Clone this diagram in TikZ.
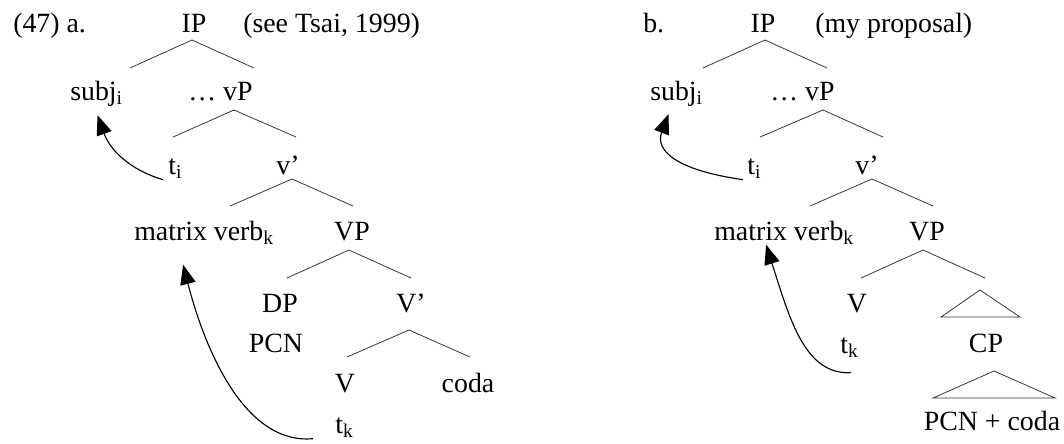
\documentclass[tikz,border=0pt]{standalone}
\usepackage{fontspec}
\setmainfont{Liberation Serif}
\usetikzlibrary{arrows.meta, calc}
\tikzset{
  treelabel/.style={
    anchor=base,
    inner sep=0pt,
    font=\fontsize{19.8}{23}\selectfont
  },
  leftlabel/.style={
    treelabel,
    anchor=base west
  },
  branch/.style={
    line width=0.55pt,
    draw=black!80
  },
  movearrow/.style={
    -{Triangle[length=14pt,width=11pt]},
    line width=0.8pt
  }
}

\begin{document}
\begin{tikzpicture}[x=0.025cm, y=-0.025cm]
  \useasboundingbox (0,0) rectangle (1064,443);

  % (47a)
  \node[leftlabel] (aex) at (13,32) {(47) a.};
  \node[treelabel] (aIP) at (194,32) {IP};
  \node[leftlabel] (anote) at (243,32) {(see Tsai, 1999)};
  \node[leftlabel] (asubj) at (70,100) {subj\textsubscript{i}};
  \node[leftlabel] (avP) at (188,100) {… vP};
  \node[leftlabel] (ati) at (168,174) {t\textsubscript{i}};
  \node[treelabel] (avbar) at (288,174) {v’};
  \node[leftlabel] (averb) at (134,240) {matrix verb\textsubscript{k}};
  \node[treelabel] (aVP) at (352,240) {VP};
  \node[treelabel] (aDP) at (280,312) {DP};
  \node[treelabel] (aPCN) at (276,352) {PCN};
  \node[treelabel] (aVbar) at (411,312) {V’};
  \node[treelabel] (aV) at (345,392) {V};
  \node[treelabel] (acoda) at (468,392) {coda};
  \node[leftlabel] (atk) at (335,433) {t\textsubscript{k}};

  \coordinate (aIPt) at (192,40);  \coordinate (aIPl) at (130,68);  \coordinate (aIPr) at (254,68);
  \coordinate (avPt) at (234,110); \coordinate (avPl) at (173,137); \coordinate (avPr) at (296,137);
  \coordinate (avbt) at (292,179); \coordinate (avbl) at (230,206); \coordinate (avbr) at (353,206);
  \coordinate (aVPt) at (349,250); \coordinate (aVPl) at (287,278); \coordinate (aVPr) at (411,278);
  \coordinate (aVbt) at (409,330); \coordinate (aVbl) at (347,357); \coordinate (aVbr) at (470,357);

  \draw[branch] (aIPl) -- (aIPt) -- (aIPr);
  \draw[branch] (avPl) -- (avPt) -- (avPr);
  \draw[branch] (avbl) -- (avbt) -- (avbr);
  \draw[branch] (aVPl) -- (aVPt) -- (aVPr);
  \draw[branch] (aVbl) -- (aVbt) -- (aVbr);

  \draw[movearrow] ($(ati.south west)+(-5,1)$)
    .. controls (130,170) and (110,150) .. ($(asubj.south)+(1,9)$);
  \draw[movearrow] ($(atk.south west)+(-22,1)$)
    .. controls (245,445) and (205,350) .. ($(averb.south)+(-21,20)$);

  % (47b)
  \node[leftlabel] (bex) at (643,32) {b.};
  \node[treelabel] (bIP) at (763,32) {IP};
  \node[leftlabel] (bnote) at (815,32) {(my proposal)};
  \node[leftlabel] (bsubj) at (650,100) {subj\textsubscript{i}};
  \node[leftlabel] (bvP) at (770,100) {… vP};
  \node[leftlabel] (bti) at (747,174) {t\textsubscript{i}};
  \node[treelabel] (bvbar) at (867,174) {v’};
  \node[leftlabel] (bverb) at (714,240) {matrix verb\textsubscript{k}};
  \node[treelabel] (bVP) at (927,240) {VP};
  \node[treelabel] (bV) at (857,312) {V};
  \node[leftlabel] (btk) at (840,353) {t\textsubscript{k}};
  \node[treelabel] (bCP) at (986,352) {CP};
  \node[treelabel] (bcoda) at (992,430) {PCN + coda};

  \coordinate (bIPt) at (765,40);  \coordinate (bIPl) at (703,68);  \coordinate (bIPr) at (827,68);
  \coordinate (bvPt) at (823,110); \coordinate (bvPl) at (760,137); \coordinate (bvPr) at (883,137);
  \coordinate (bvbt) at (872,179); \coordinate (bvbl) at (810,206); \coordinate (bvbr) at (933,206);
  \coordinate (bVPt) at (923,250); \coordinate (bVPl) at (861,278); \coordinate (bVPr) at (985,278);
  \coordinate (btrAt) at (980,290); \coordinate (btrAl) at (941,317); \coordinate (btrAr) at (1020,317);
  \coordinate (btrBt) at (994,371); \coordinate (btrBl) at (933,398); \coordinate (btrBr) at (1055,398);

  \draw[branch] (bIPl) -- (bIPt) -- (bIPr);
  \draw[branch] (bvPl) -- (bvPt) -- (bvPr);
  \draw[branch] (bvbl) -- (bvbt) -- (bvbr);
  \draw[branch] (bVPl) -- (bVPt) -- (bVPr);
  \draw[branch] (btrAl) -- (btrAt) -- (btrAr) -- cycle;
  \draw[branch] (btrBl) -- (btrBt) -- (btrBr) -- cycle;

  \draw[movearrow] ($(bti.south west)+(-4,1)$)
    .. controls (675,170) and (655,150) .. ($(bsubj.south)+(-8,8)$);
  \draw[movearrow] ($(btk.south west)+(11,15)$)
    .. controls (805,375) and (790,320) .. ($(bverb.south)+(-18,0)$);
\end{tikzpicture}
\end{document}
